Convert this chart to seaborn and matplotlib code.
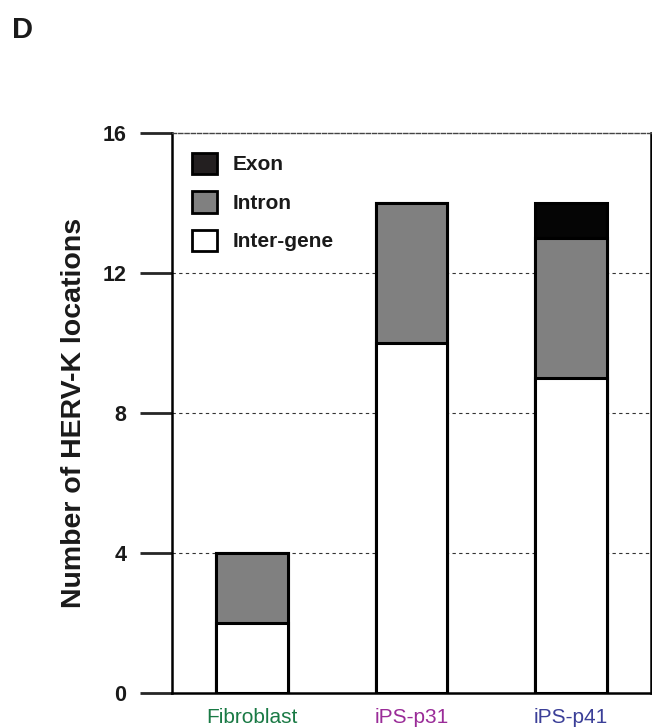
import matplotlib
matplotlib.use("Agg")
import matplotlib.pyplot as plt
import seaborn as sns
import pandas as pd
import numpy as np
from matplotlib.patches import Patch

categories = ["Fibroblast", "iPS-p31", "iPS-p41"]
inter_gene = [2, 10, 9]
intron = [2, 4, 4]
exon = [0, 0, 1]
label_colors = ["#1a7a45", "#9a2c98", "#3b3f98"]
yticks = [0, 4, 8, 12, 16]

sns.set_theme(style="white")
plt.rcParams['font.family'] = ['Liberation Sans', 'DejaVu Sans']

df = pd.DataFrame({"cat": categories, "inter": inter_gene, "intron": intron, "exon": exon})
df["lvl2"] = df["inter"] + df["intron"]
df["lvl3"] = df["lvl2"] + df["exon"]

fig = plt.figure(figsize=(6.52, 7.28), dpi=100)
ax = fig.add_axes([172/652, 35/728, 479/652, 560/728])

exon_c = "#050505"
intron_c = "#808080"
lw = 2.2
sns.barplot(data=df, x="cat", y="lvl3", color=exon_c, width=0.45, edgecolor="black",
            linewidth=lw, saturation=1, ax=ax, zorder=3)
sns.barplot(data=df, x="cat", y="lvl2", color=intron_c, width=0.45, edgecolor="black",
            linewidth=lw, saturation=1, ax=ax, zorder=3)
sns.barplot(data=df, x="cat", y="inter", color="white", width=0.45, edgecolor="black",
            linewidth=lw, saturation=1, ax=ax, zorder=3)

ax.set_xlim(-0.5, 2.5)
ax.set_ylim(0, 16)
ax.set_yticks(yticks)
ax.set_yticklabels([str(t) for t in yticks], fontsize=15.5, fontweight="bold", color="#1a1a1a")
ax.tick_params(axis="y", direction="out", length=23, width=2, pad=10, left=True)
ax.tick_params(axis="x", length=0, pad=11)
for lbl, c in zip(ax.get_xticklabels(), label_colors):
    lbl.set_color(c)
    lbl.set_fontsize(15)

for y in [4, 8, 12]:
    ax.axhline(y, color="#333333", linestyle=(0, (3, 3)), linewidth=0.8, zorder=1)

for s in ["left", "bottom", "right"]:
    ax.spines[s].set_color("black")
    ax.spines[s].set_linewidth(1.8)
ax.spines["top"].set_color("#444444")
ax.spines["top"].set_linewidth(1.0)
ax.spines["top"].set_linestyle((0, (3, 1.5)))

ax.set_xlabel("")
ax.set_ylabel("Number of HERV-K locations", fontsize=20.5, fontweight="bold",
              labelpad=11, color="#1a1a1a")

handles = [Patch(facecolor="#231f20", edgecolor="black", linewidth=2, label="Exon"),
           Patch(facecolor=intron_c, edgecolor="black", linewidth=2, label="Intron"),
           Patch(facecolor="white", edgecolor="black", linewidth=2, label="Inter-gene")]
leg = ax.legend(handles=handles, loc="upper left", frameon=False, handlelength=1.2,
                handleheight=1.2, labelspacing=0.8, handletextpad=0.75,
                prop={"weight": "bold", "size": 15}, borderaxespad=0.55)
for t in leg.get_texts():
    t.set_color("#1a1a1a")

fig.text(12/652, 1 - 38/728, "D", fontsize=21, fontweight="bold", color="#1a1a1a")

fig.savefig("out.png", dpi=100)
